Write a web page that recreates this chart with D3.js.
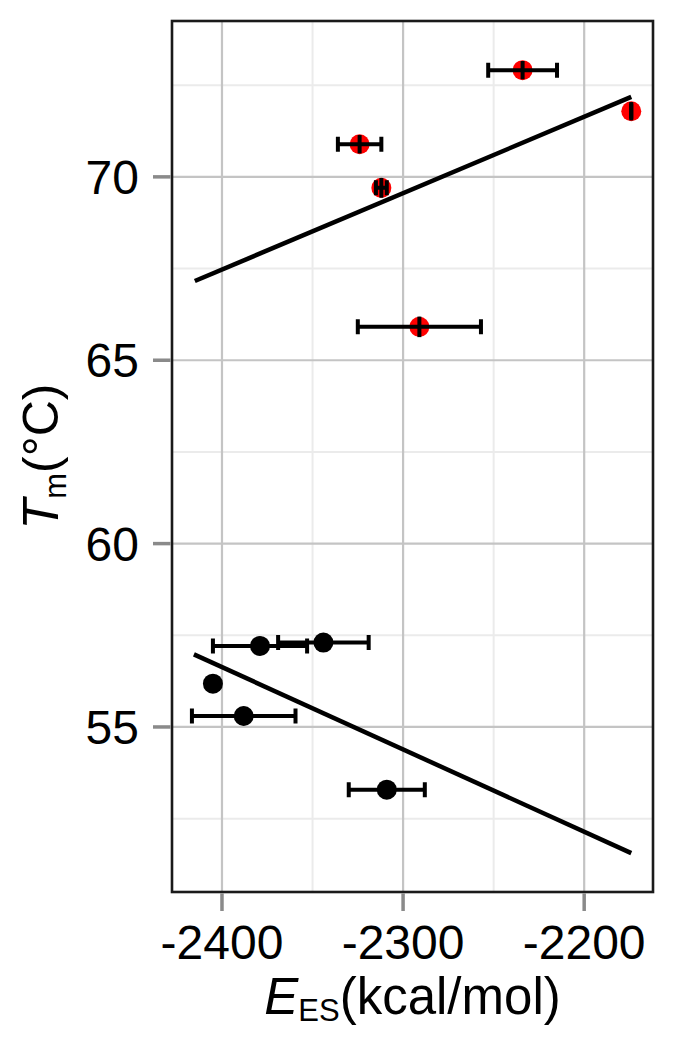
<!DOCTYPE html>
<html>
<head>
<meta charset="utf-8">
<script src="https://cdn.jsdelivr.net/npm/d3@7"></script>
<style>
body { margin: 0; background: #fff; }
text { font-family: "Liberation Sans", Arial, Helvetica, sans-serif; fill: #000; }
</style>
</head>
<body>
<div id="chart"></div>
<script>
var WIDTH = 676;
var HEIGHT = 1045;
var MARGIN = {top: 21, right: 23, bottom: 153, left: 172};

// red group (high Tm)
var redX = [-2234, -2174, -2324, -2312, -2291];
var redY = [72.91, 71.79, 70.89, 69.70, 65.91];
var redXErr = [19, 0, 12, 3, 34];
var redYErr = [0.25, 0.25, 0.25, 0.27, 0.28];

// black group (low Tm)
var blackX = [-2379, -2344, -2405, -2388, -2309];
var blackY = [57.21, 57.30, 56.18, 55.30, 53.29];
var blackXErr = [26, 25, 0, 28.6, 21];
var blackYErr = [0.25, 0.25, 0.25, 0.25, 0.25];

// fitted lines
var fitRedX = [-2415, -2174];
var fitRedY = [67.16, 72.18];
var fitBlackX = [-2415.5, -2174];
var fitBlackY = [56.98, 51.56];

var xMajor = [-2400, -2300, -2200];
var xMinor = [-2350, -2250];
var yMajor = [55, 60, 65, 70];
var yMinor = [52.5, 57.5, 62.5, 67.5, 72.5];

var RADIUS = 10;
var CAP = 7.5;
var FONT = 48;

function toPoints(xs, ys, xe, ye, color) {
	var pts = [];
	for(var i = 0; i < xs.length; i++) {
		pts.push({x: xs[i], y: ys[i], xe: xe[i], ye: ye[i], color: color});
	}
	return pts;
}

var points = toPoints(redX, redY, redXErr, redYErr, "#ff0000")
	.concat(toPoints(blackX, blackY, blackXErr, blackYErr, "#000000"));

var x = d3.scaleLinear().domain([-2427.6, -2162]).range([MARGIN.left, WIDTH - MARGIN.right]);
var y = d3.scaleLinear().domain([50.5, 74.25]).range([HEIGHT - MARGIN.bottom, MARGIN.top]);

var svg = d3.select("#chart").append("svg")
	.attr("width", WIDTH)
	.attr("height", HEIGHT);

svg.append("rect").attr("width", WIDTH).attr("height", HEIGHT).attr("fill", "#fff");

var grid = svg.append("g");
grid.selectAll(".xmin").data(xMinor).enter().append("line")
	.attr("x1", d => x(d)).attr("x2", d => x(d))
	.attr("y1", y.range()[0]).attr("y2", y.range()[1])
	.attr("stroke", "#ebebeb").attr("stroke-width", 2);
grid.selectAll(".ymin").data(yMinor).enter().append("line")
	.attr("y1", d => y(d)).attr("y2", d => y(d))
	.attr("x1", x.range()[0]).attr("x2", x.range()[1])
	.attr("stroke", "#ebebeb").attr("stroke-width", 2);
grid.selectAll(".xmaj").data(xMajor).enter().append("line")
	.attr("x1", d => x(d)).attr("x2", d => x(d))
	.attr("y1", y.range()[0]).attr("y2", y.range()[1])
	.attr("stroke", "#c4c4c4").attr("stroke-width", 2.2);
grid.selectAll(".ymaj").data(yMajor).enter().append("line")
	.attr("y1", d => y(d)).attr("y2", d => y(d))
	.attr("x1", x.range()[0]).attr("x2", x.range()[1])
	.attr("stroke", "#c4c4c4").attr("stroke-width", 2.2);

// regression lines
var line = d3.line().x(d => x(d[0])).y(d => y(d[1]));
[[fitRedX, fitRedY], [fitBlackX, fitBlackY]].forEach(function(f) {
	svg.append("path")
		.attr("d", line(d3.zip(f[0], f[1])))
		.attr("fill", "none")
		.attr("stroke", "#000")
		.attr("stroke-width", 4.5);
});

svg.selectAll("circle")
	.data(points)
	.enter()
	.append("circle")
	.attr("cx", d => x(d.x))
	.attr("cy", d => y(d.y))
	.attr("r", RADIUS)
	.attr("fill", d => d.color);

// error bars: horizontal with caps, vertical without caps
var bars = svg.append("g").attr("stroke", "#000").attr("stroke-width", 4).attr("fill", "none");
points.forEach(function(d) {
	var cy = y(d.y);
	var x0 = x(d.x - d.xe), x1 = x(d.x + d.xe);
	bars.append("path")
		.attr("d", "M" + x0 + "," + (cy - CAP) + "V" + (cy + CAP) +
			"M" + x0 + "," + cy + "H" + x1 +
			"M" + x1 + "," + (cy - CAP) + "V" + (cy + CAP));
	bars.append("line")
		.attr("x1", x(d.x)).attr("x2", x(d.x))
		.attr("y1", y(d.y - d.ye)).attr("y2", y(d.y + d.ye));
});

// panel border
svg.append("rect")
	.attr("x", x.range()[0]).attr("y", y.range()[1])
	.attr("width", x.range()[1] - x.range()[0])
	.attr("height", y.range()[0] - y.range()[1])
	.attr("fill", "none")
	.attr("stroke", "#1a1a1a")
	.attr("stroke-width", 2.6);

// ticks
svg.selectAll(".xtick").data(xMajor).enter().append("line")
	.attr("x1", d => x(d)).attr("x2", d => x(d))
	.attr("y1", y.range()[0] + 1.3).attr("y2", y.range()[0] + 19)
	.attr("stroke", "#8a8a8a").attr("stroke-width", 3.5);
svg.selectAll(".ytick").data(yMajor).enter().append("line")
	.attr("y1", d => y(d)).attr("y2", d => y(d))
	.attr("x1", x.range()[0] - 19).attr("x2", x.range()[0] - 1.3)
	.attr("stroke", "#8a8a8a").attr("stroke-width", 3.5);

svg.selectAll(".xlab").data(xMajor).enter().append("text")
	.attr("x", d => x(d))
	.attr("y", 959)
	.attr("text-anchor", "middle")
	.style("font-size", FONT + "px")
	.text(d => d);
svg.selectAll(".ylab").data(yMajor).enter().append("text")
	.attr("x", 139)
	.attr("y", d => y(d) + 17)
	.attr("text-anchor", "end")
	.style("font-size", FONT + "px")
	.text(d => d);

// axis titles
var xt = svg.append("text")
	.attr("x", (x.range()[0] + x.range()[1]) / 2)
	.attr("y", 1014)
	.attr("text-anchor", "middle")
	.style("font-size", "51px");
xt.append("tspan").style("font-style", "italic").text("E");
xt.append("tspan").attr("dy", 7).style("font-size", "31px").text("ES");
xt.append("tspan").attr("dy", -7).text("(kcal/mol)");

var yt = svg.append("text")
	.attr("transform", "translate(58," + ((y.range()[0] + y.range()[1]) / 2) + ") rotate(-90)")
	.attr("text-anchor", "middle")
	.style("font-size", "50px");
yt.append("tspan").style("font-style", "italic").text("T");
yt.append("tspan").attr("dy", 8).style("font-size", "31px").text("m");
yt.append("tspan").attr("dy", -8).text("(°C)");
</script>
</body>
</html>
